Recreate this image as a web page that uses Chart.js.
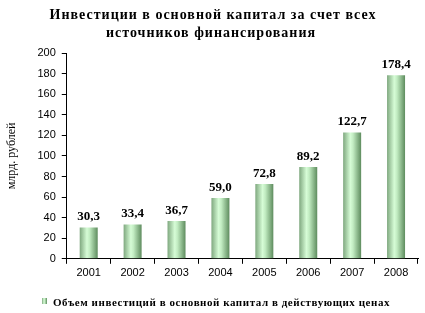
<!DOCTYPE html>
<html>
<head>
<meta charset="utf-8">
<script src="https://cdn.jsdelivr.net/npm/chart.js@4"></script>
<style>
  html, body { margin: 0; padding: 0; background: #fff; }
  #wrap { width: 425px; height: 313px; position: relative; }
</style>
</head>
<body>
<div id="wrap"><canvas id="investChart"></canvas></div>
<script>
// chart data
const years = ["2001", "2002", "2003", "2004", "2005", "2006", "2007", "2008"];
const investValues = [30.3, 33.4, 36.7, 59.0, 72.8, 89.2, 122.7, 178.4];
const titleLines = ["Инвестиции в основной капитал за счет всех", "источников финансирования"];
const seriesLabel = "Объем инвестиций в основной капитал в действующих ценах";
const yAxisLabel = "млрд. рублей";

const BAR_PCT = 0.41;

// horizontal "cylinder" gradient for a bar
function barGradient(ctx, left, right) {
  const g = ctx.createLinearGradient(left, 0, right, 0);
  g.addColorStop(0, "#7fa87f");
  g.addColorStop(0.4, "#d6fcd6");
  g.addColorStop(0.55, "#c2ecc2");
  g.addColorStop(1, "#5e8c5e");
  return g;
}

// value labels above the bars
const valueLabels = {
  id: "valueLabels",
  afterDatasetsDraw(chart) {
    const ctx = chart.ctx;
    const meta = chart.getDatasetMeta(0);
    ctx.save();
    ctx.font = "bold 13px 'Liberation Serif', serif";
    ctx.fillStyle = "#000";
    ctx.textAlign = "center";
    ctx.textBaseline = "bottom";
    meta.data.forEach(function (bar, i) {
      const txt = investValues[i].toFixed(1).replace(".", ",");
      ctx.fillText(txt, bar.x, bar.y - 4);
    });
    ctx.restore();
  },
};

// title on top and legend at the bottom (letter-spaced like the original)
const headerFooter = {
  id: "headerFooter",
  afterDraw(chart) {
    const ctx = chart.ctx;
    ctx.save();
    ctx.fillStyle = "#000";
    ctx.textBaseline = "middle";
    ctx.textAlign = "center";
    ctx.letterSpacing = "1px";
    ctx.font = "bold 14px 'Liberation Serif', serif";
    ctx.fillText(titleLines[0], 213, 15);
    ctx.fillText(titleLines[1], 211, 33);

    // legend
    ctx.letterSpacing = "0.55px";
    ctx.font = "bold 11px 'Liberation Serif', serif";
    ctx.textAlign = "left";
    ctx.fillText(seriesLabel, 53, 303);
    ctx.fillStyle = barGradient(ctx, 42, 47);
    ctx.fillRect(42, 298, 5, 6);
    ctx.restore();
  },
};

const ctx = document.getElementById("investChart").getContext("2d");

new Chart(ctx, {
  type: "bar",
  data: {
    labels: years,
    datasets: [
      {
        label: seriesLabel,
        data: investValues,
        backgroundColor: function (context) {
          const chart = context.chart;
          const xs = chart.scales.x;
          if (!chart.chartArea || !xs || context.dataIndex === undefined) return "#a8d8a8";
          const cx = xs.getPixelForValue(context.dataIndex);
          const half = (xs.width / years.length) * BAR_PCT / 2;
          return barGradient(chart.ctx, cx - half, cx + half);
        },
        borderWidth: 0,
        barPercentage: BAR_PCT,
        categoryPercentage: 1,
      },
    ],
  },
  options: {
    responsive: true,
    maintainAspectRatio: false,
    animation: false,
    layout: {
      padding: { left: 5, right: 7, top: 53, bottom: 30 },
    },
    plugins: {
      title: { display: false },
      legend: { display: false },
      tooltip: { enabled: false },
    },
    scales: {
      y: {
        min: 0,
        max: 200,
        ticks: {
          stepSize: 20,
          color: "#000",
          padding: 6,
          font: { family: "'Liberation Sans', sans-serif", size: 11 },
        },
        grid: {
          drawOnChartArea: false,
          drawTicks: true,
          tickLength: 5,
          color: "#000",
        },
        border: { color: "#000", width: 1 },
        title: {
          display: true,
          text: yAxisLabel,
          color: "#000",
          font: { family: "'Liberation Serif', serif", size: 12 },
          padding: { top: 0, bottom: 12 },
        },
      },
      x: {
        ticks: {
          color: "#000",
          padding: 3,
          font: { family: "'Liberation Sans', sans-serif", size: 11 },
        },
        grid: {
          offset: true,
          drawOnChartArea: false,
          drawTicks: true,
          tickLength: 5,
          color: "#000",
        },
        border: { color: "#000", width: 1 },
      },
    },
  },
  plugins: [valueLabels, headerFooter],
});
</script>
</body>
</html>
